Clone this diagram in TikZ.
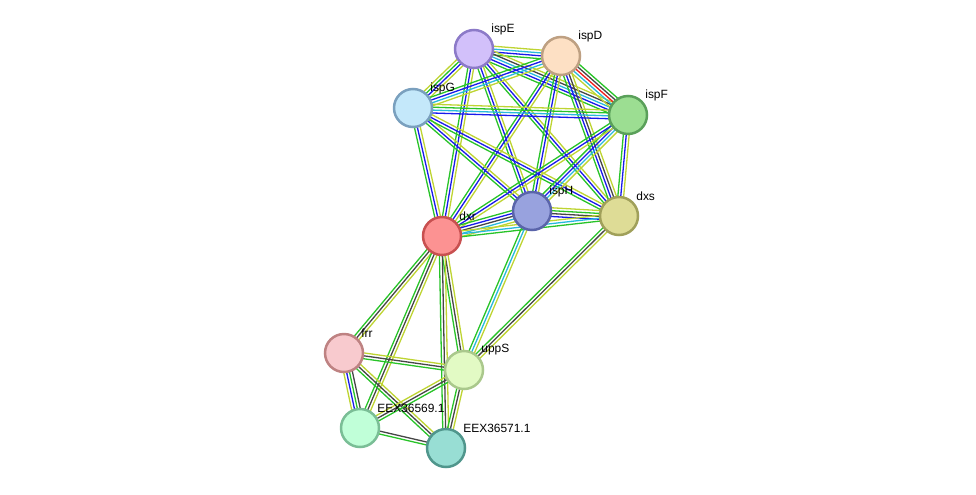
\documentclass[tikz,border=0pt]{standalone}
\usepackage{fontspec}
\setmainfont{Liberation Sans}
\usetikzlibrary{calc}
\pgfdeclarelayer{background}
\pgfsetlayers{background,main}
% edge colours
\definecolor{egreen}{RGB}{40,195,40}
\definecolor{eblue}{RGB}{25,25,235}
\definecolor{ecyan}{RGB}{40,185,220}
\definecolor{eyel}{RGB}{190,212,50}
\definecolor{eblack}{RGB}{70,70,70}
\definecolor{ered}{RGB}{240,25,25}
% protein colours (fill / border)
\definecolor{ispEf}{RGB}{210,192,250}\definecolor{ispEd}{RGB}{140,122,200}
\definecolor{ispDf}{RGB}{253,224,196}\definecolor{ispDd}{RGB}{190,160,130}
\definecolor{ispGf}{RGB}{196,232,250}\definecolor{ispGd}{RGB}{122,160,190}
\definecolor{ispFf}{RGB}{156,222,146}\definecolor{ispFd}{RGB}{90,160,90}
\definecolor{ispHf}{RGB}{152,162,222}\definecolor{ispHd}{RGB}{90,100,170}
\definecolor{dxsf}{RGB}{222,220,150}\definecolor{dxsd}{RGB}{160,160,90}
\definecolor{dxrf}{RGB}{252,146,146}\definecolor{dxrd}{RGB}{200,80,80}
\definecolor{frrf}{RGB}{248,202,206}\definecolor{frrd}{RGB}{190,130,130}
\definecolor{uppSf}{RGB}{226,250,196}\definecolor{uppSd}{RGB}{170,200,140}
\definecolor{eexAf}{RGB}{192,255,216}\definecolor{eexAd}{RGB}{122,190,150}
\definecolor{eexBf}{RGB}{152,222,212}\definecolor{eexBd}{RGB}{80,150,140}
% one evidence line per colour, side by side
\newcommand{\link}[3]{%
  \foreach \c [count=\k] in {#3}{\xdef\nlines{\k}}%
  \foreach \c [count=\k] in {#3}{%
    \pgfmathsetmacro\off{(\k-(\nlines+1)/2)*2.9}%
    \draw[\c,edge] ($(#1)!\off*0.2mm!90:(#2)$) -- ($(#2)!\off*0.2mm!-90:(#1)$);}}

\begin{document}
\begin{tikzpicture}[x=0.2mm,y=-0.2mm,
  prot/.style={circle,draw,line width=0.5mm,minimum size=7.6mm,inner sep=0pt},
  lbl/.style={anchor=west,inner sep=0pt,font=\fontsize{6.8}{8}\selectfont},
  edge/.style={line width=0.26mm}]
\useasboundingbox (0,0) rectangle (976,494);
% proteins
\node[prot,fill=ispEf,draw=ispEd] (ispE) at (474,49) {};
\node[prot,fill=ispDf,draw=ispDd] (ispD) at (561,56) {};
\node[prot,fill=ispGf,draw=ispGd] (ispG) at (413,108) {};
\node[prot,fill=ispFf,draw=ispFd] (ispF) at (628,115) {};
\node[prot,fill=ispHf,draw=ispHd] (ispH) at (532,211) {};
\node[prot,fill=dxsf,draw=dxsd] (dxs) at (619,216) {};
\node[prot,fill=dxrf,draw=dxrd] (dxr) at (442,236) {};
\node[prot,fill=frrf,draw=frrd] (frr) at (344,353) {};
\node[prot,fill=uppSf,draw=uppSd] (uppS) at (464,370) {};
\node[prot,fill=eexAf,draw=eexAd] (eexA) at (360,428) {};
\node[prot,fill=eexBf,draw=eexBd] (eexB) at (446,448) {};
% names
\node[lbl] (ispE-l) at ($(ispE)+(17,-20)$) {ispE};
\node[lbl] (ispD-l) at ($(ispD)+(17,-20)$) {ispD};
\node[lbl] (ispG-l) at ($(ispG)+(17,-20)$) {ispG};
\node[lbl] (ispF-l) at ($(ispF)+(17,-20)$) {ispF};
\node[lbl] (ispH-l) at ($(ispH)+(17,-20)$) {ispH};
\node[lbl] (dxs-l) at ($(dxs)+(17,-20)$) {dxs};
\node[lbl] (dxr-l) at ($(dxr)+(17,-20)$) {dxr};
\node[lbl] (frr-l) at ($(frr)+(17,-20)$) {frr};
\node[lbl] (uppS-l) at ($(uppS)+(17,-20)$) {uppS};
\node[lbl] (eexA-l) at ($(eexA)+(17,-20)$) {EEX36569.1};
\node[lbl] (eexB-l) at ($(eexB)+(17,-20)$) {EEX36571.1};
% interactions
\begin{pgfonlayer}{background}
\link{ispE}{ispD}{egreen,eblue,ecyan,eyel}
\link{ispE}{ispG}{eyel,egreen,eblue,eyel}
\link{ispE}{ispF}{egreen,eblue,ecyan,eblack,eyel}
\link{ispE}{ispH}{egreen,eblue,eyel}
\link{ispE}{dxs}{egreen,eblue,eyel}
\link{ispE}{dxr}{egreen,eblue,eyel}
\link{ispD}{ispG}{egreen,eblue,ecyan,eyel}
\link{ispD}{ispF}{eyel,ecyan,ered,eblack,egreen}
\link{ispD}{ispH}{egreen,eblue,eyel}
\link{ispD}{dxs}{egreen,eblue,eblack,eyel}
\link{ispD}{dxr}{egreen,eblue,eyel}
\link{ispG}{ispF}{eblue,ecyan,egreen,eyel}
\link{ispG}{ispH}{egreen,eblue,eyel}
\link{ispG}{dxs}{egreen,eblue,eyel}
\link{ispG}{dxr}{egreen,eblue,eyel}
\link{ispF}{ispH}{egreen,eblue,ecyan,eyel}
\link{ispF}{dxs}{egreen,eblue,eyel}
\link{ispF}{dxr}{egreen,eblue,eyel}
\link{ispH}{dxs}{eblue,eblack,egreen,eyel}
\link{ispH}{dxr}{egreen,eblue,eblack,ecyan,eyel}
\link{dxs}{dxr}{eyel,ecyan,egreen}
\link{dxr}{frr}{egreen,eblack,eyel}
\link{dxr}{uppS}{egreen,eblack,eyel}
\link{dxr}{eexA}{egreen,eblack,eyel}
\link{dxr}{eexB}{egreen,eblack,eyel}
\link{ispH}{uppS}{egreen,ecyan,eyel}
\link{dxs}{uppS}{egreen,eblack,eyel}
\link{frr}{uppS}{egreen,eblack,eyel}
\link{frr}{eexA}{eyel,eblue,egreen,eblack}
\link{frr}{eexB}{egreen,eblack,eyel}
\link{uppS}{eexA}{eyel,eblack,egreen}
\link{uppS}{eexB}{egreen,eblack,eyel}
\link{eexA}{eexB}{egreen,eblack}
\end{pgfonlayer}
\end{tikzpicture}
\end{document}
